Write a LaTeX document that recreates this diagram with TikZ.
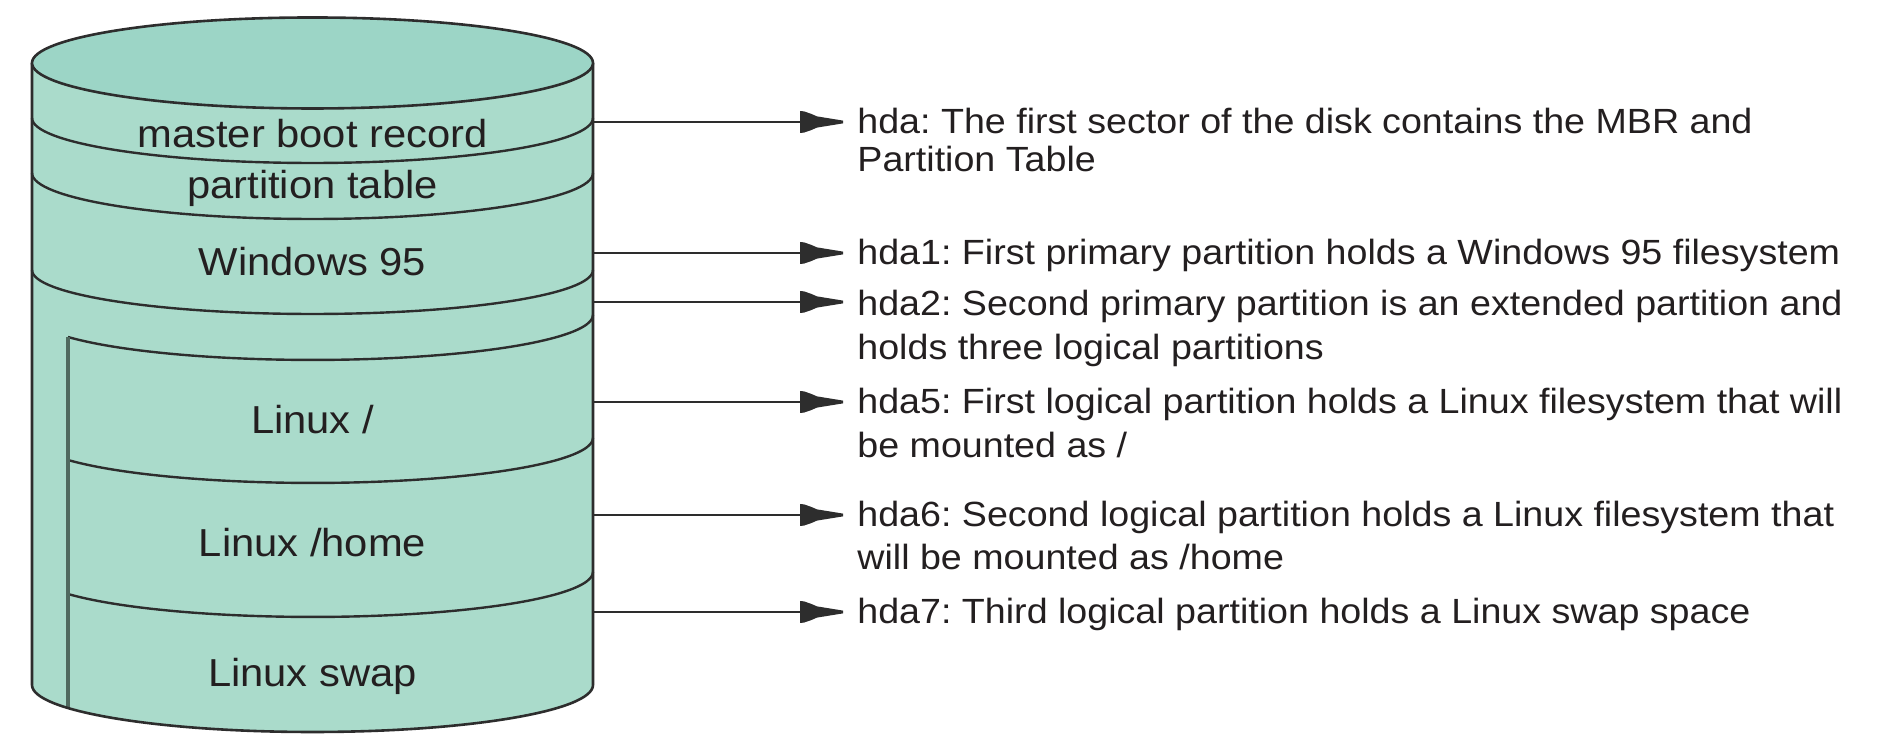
\documentclass[tikz,border=0pt]{standalone}
\usepackage{fontspec}
\setmainfont{Liberation Sans}
\newfontfamily\cylfont{Liberation Sans}[FakeStretch=1.07]
\newfontfamily\descfont{Liberation Sans}[FakeStretch=1.075]
\frenchspacing
\definecolor{topfill}{RGB}{156,213,198}
\definecolor{bodyfill}{RGB}{170,219,203}
\definecolor{edgecol}{RGB}{45,45,45}
\definecolor{innercol}{RGB}{80,105,95}
\definecolor{txtcol}{RGB}{35,31,32}
\pgfdeclarearrow{
  name = Barb,
  setup code = {
    \pgfarrowssettipend{0pt}
    \pgfarrowssetlineend{-12pt}
    \pgfarrowssetbackend{-21.5pt}
    \pgfarrowsupperhullpoint{0pt}{0.6pt}
    \pgfarrowsupperhullpoint{-21.5pt}{5.4pt}
  },
  drawing code = {
    \pgfpathmoveto{\pgfqpoint{0pt}{0.7pt}}
    \pgfpathlineto{\pgfqpoint{-13pt}{2.8pt}}
    \pgfpathlineto{\pgfqpoint{-16pt}{4.1pt}}
    \pgfpathlineto{\pgfqpoint{-19.5pt}{5.3pt}}
    \pgfpathlineto{\pgfqpoint{-21.5pt}{5.5pt}}
    \pgfpathlineto{\pgfqpoint{-21.5pt}{-5.5pt}}
    \pgfpathlineto{\pgfqpoint{-19.5pt}{-5.3pt}}
    \pgfpathlineto{\pgfqpoint{-16pt}{-4.1pt}}
    \pgfpathlineto{\pgfqpoint{-13pt}{-2.8pt}}
    \pgfpathlineto{\pgfqpoint{0pt}{-0.7pt}}
    \pgfpathclose
    \pgfusepathqfill
  }
}
\tikzset{
  outline/.style={draw=edgecol, line width=1.3pt},
  band/.style={draw=edgecol, line width=1.2pt},
  cyllabel/.style={font=\cylfont\fontsize{19.5pt}{22pt}\selectfont, text=txtcol, inner sep=0pt, anchor=base},
  desc/.style={font=\descfont\fontsize{17.5pt}{18pt}\selectfont, text=txtcol, inner sep=0pt, anchor=base west},
  pointer/.style={draw=edgecol, line width=1pt, -Barb, shorten >=7pt}
}
\begin{document}
\begin{tikzpicture}[x=0.5pt,y=0.5pt]
\useasboundingbox (0,0) rectangle (1902,753);
\fill[white] (0,0) rectangle (1902,753);
% body
\fill[bodyfill] (32,690) -- (32,68) arc[start angle=180, end angle=360, x radius=280.5, y radius=47] -- (593,690) -- cycle;
% band lines (front arcs)
\draw[band] (32,635) arc[start angle=180, end angle=360, x radius=280.5, y radius=45];
\draw[band] (32,580) arc[start angle=180, end angle=360, x radius=280.5, y radius=46];
\draw[band] (32,483) arc[start angle=180, end angle=360, x radius=280.5, y radius=44];
% extended partition inner arcs
\draw[band] (68,416) arc[start angle=209.35, end angle=360, x radius=280.5, y radius=45];
\draw[band] (68,293) arc[start angle=209.35, end angle=360, x radius=280.5, y radius=45];
\draw[band] (68,159) arc[start angle=209.35, end angle=360, x radius=280.5, y radius=45];
\draw[draw=innercol, line width=1.6pt] (68,416) -- (68,45);
% outline
\draw[outline] (32,690) -- (32,68) arc[start angle=180, end angle=360, x radius=280.5, y radius=47] -- (593,690);
\draw[outline, fill=topfill] (312.5,690) ellipse[x radius=280.5, y radius=45.5];
% cylinder labels
\node[cyllabel] (mbr) at (312.5,605) {master boot record};
\node[cyllabel] (pt) at (312.5,554) {partition table};
\node[cyllabel] (win) at (312.5,477) {Windows 95};
\node[cyllabel] (lroot) at (312.5,319) {Linux /};
\node[cyllabel] (lhome) at (312.5,196) {Linux /home};
\node[cyllabel] (lswap) at (312.5,66) {Linux swap};
% descriptions
\node[desc] (t0) at (857,619) {\vtop{\baselineskip=19pt\hbox{hda: The first sector of the disk contains the MBR and}\hbox{Partition Table}}};
\node[desc] (t1) at (857,488) {hda1: First primary partition holds a Windows 95 filesystem};
\node[desc] (t2) at (857,437) {\vtop{\baselineskip=22pt\hbox{hda2: Second primary partition is an extended partition and}\hbox{holds three logical partitions}}};
\node[desc] (t5) at (857,339) {\vtop{\baselineskip=22pt\hbox{hda5: First logical partition holds a Linux filesystem that will}\hbox{be mounted as /}}};
\node[desc] (t6) at (857,226) {\vtop{\baselineskip=21.5pt\hbox{hda6: Second logical partition holds a Linux filesystem that}\hbox{will be mounted as /home}}};
\node[desc] (t7) at (857,129) {hda7: Third logical partition holds a Linux swap space};
% arrow start points on the cylinder edge
\coordinate (s0) at (593,631);
\coordinate (s1) at (593,500);
\coordinate (s2) at (593,451);
\coordinate (s5) at (593,351);
\coordinate (s6) at (593,238);
\coordinate (s7) at (593,141);
\draw[pointer] (s0) -- (s0 -| t0.west);
\draw[pointer] (s1) -- (s1 -| t1.west);
\draw[pointer] (s2) -- (s2 -| t2.west);
\draw[pointer] (s5) -- (s5 -| t5.west);
\draw[pointer] (s6) -- (s6 -| t6.west);
\draw[pointer] (s7) -- (s7 -| t7.west);
\end{tikzpicture}
\end{document}
